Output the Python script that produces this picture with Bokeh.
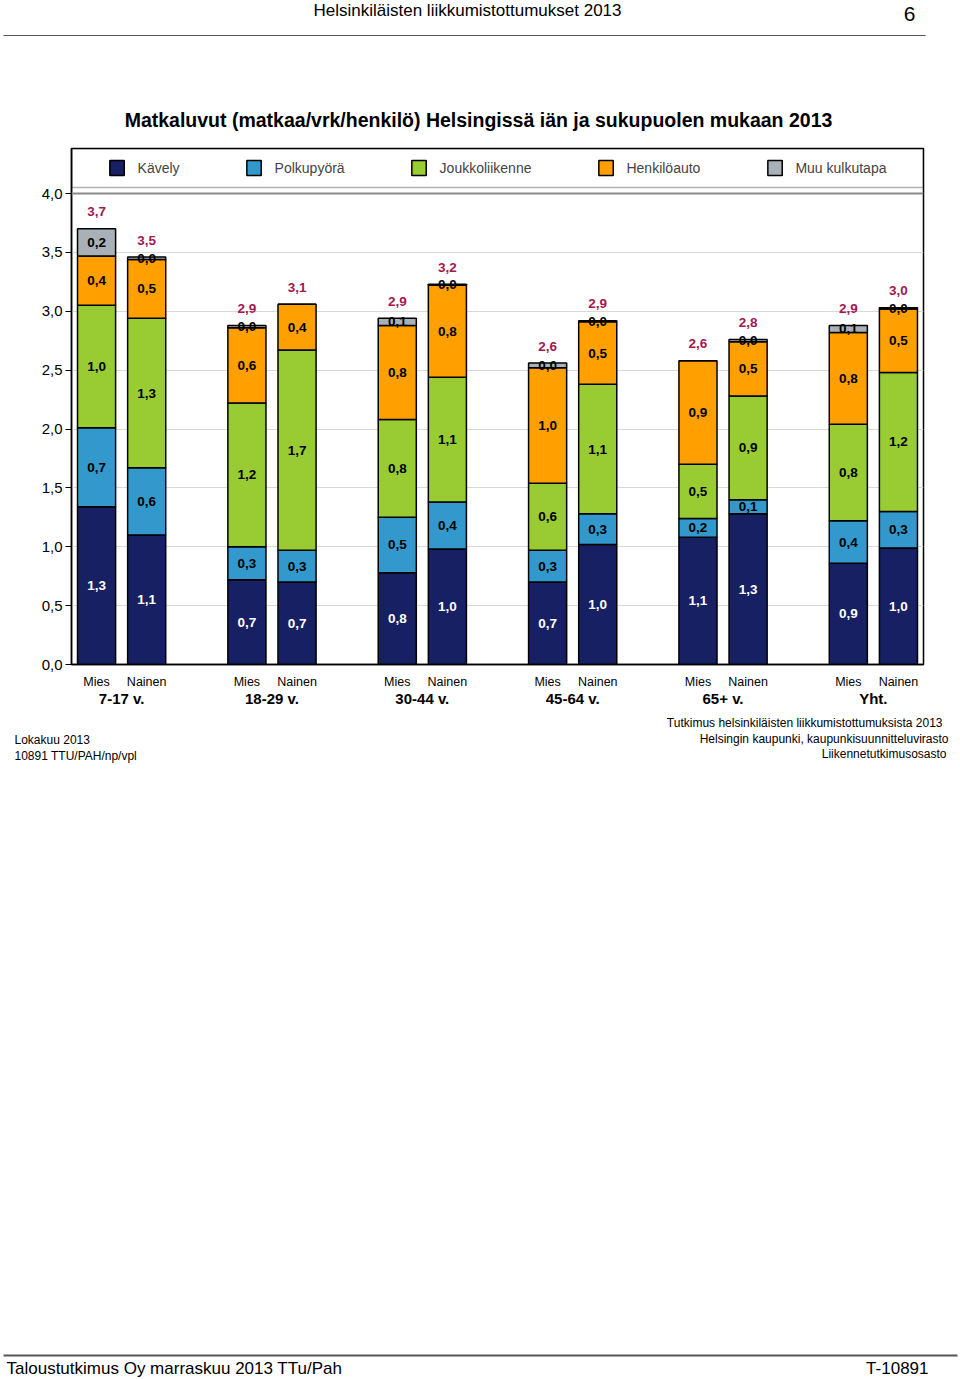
from bokeh.plotting import figure
from bokeh.models import (ColumnDataSource, Range1d, LabelSet, LinearAxis,
                          FixedTicker, CustomJSTickFormatter, Span, BoxAnnotation)
from bokeh.core.properties import value
from bokeh.embed import file_html
from bokeh.resources import INLINE

# ---------------- data ----------------
groups = ["7-17 v.", "18-29 v.", "30-44 v.", "45-64 v.", "65+ v.", "Yht."]
sexes = ["Mies", "Nainen"]
modes = ["Kävely", "Polkupyörä", "Joukkoliikenne", "Henkilöauto", "Muu kulkutapa"]
# order of bars: for each group Mies, Nainen
walk    = [1.34, 1.10, 0.72, 0.70, 0.78, 0.98, 0.70, 1.02, 1.08, 1.28, 0.86, 0.99]
bike    = [0.67, 0.57, 0.28, 0.27, 0.47, 0.40, 0.27, 0.26, 0.16, 0.12, 0.36, 0.31]
transit = [1.04, 1.27, 1.22, 1.70, 0.83, 1.06, 0.57, 1.10, 0.46, 0.88, 0.82, 1.18]
car     = [0.42, 0.50, 0.64, 0.39, 0.80, 0.78, 0.98, 0.53, 0.88, 0.46, 0.78, 0.54]
other   = [0.23, 0.02, 0.02, 0.00, 0.06, 0.01, 0.04, 0.01, 0.00, 0.02, 0.06, 0.01]
y_ticks = [0.0, 0.5, 1.0, 1.5, 2.0, 2.5, 3.0, 3.5, 4.0]

header_text = "Helsinkiläisten liikkumistottumukset 2013"
page_no = "6"
title_text = "Matkaluvut (matkaa/vrk/henkilö) Helsingissä iän ja sukupuolen mukaan 2013"
left_notes = ["Lokakuu 2013", "10891 TTU/PAH/np/vpl"]
right_notes = ["Tutkimus helsinkiläisten liikkumistottumuksista 2013",
               "Helsingin kaupunki, kaupunkisuunnitteluvirasto",
               "Liikennetutkimusosasto"]
footer_left = "Taloustutkimus Oy marraskuu 2013 TTu/Pah"
footer_right = "T-10891"

colors = ["#172062", "#3399cc", "#99cc33", "#ffa000", "#a8b0b8"]
label_colors = ["white", "black", "black", "black", "black"]
total_color = "#a0184f"
FONT = "Liberation Sans"
W = 960

series = [walk, bike, transit, car, other]
# bar positions: each group takes 2 slots plus 1 slot of gap
STEP = len(sexes) + 1
x = [STEP * gi + si + 0.5 for gi in range(len(groups)) for si in range(len(sexes))]
x_names = [s for g in groups for s in sexes]
g_centers = [STEP * gi + len(sexes) / 2 for gi in range(len(groups))]
x_end = STEP * len(groups) - 1


def fmt(v):
    return f"{v:.1f}".replace(".", ",")


data = {"x": x}
for m, vals in zip(modes, series):
    data[m] = vals
src = ColumnDataSource(data)

lx, ly, lt, lc = [], [], [], []
tx, ty, tt = [], [], []
for i, xi in enumerate(x):
    base = 0.0
    for k, vals in enumerate(series):
        v = vals[i]
        if v > 0:
            lx.append(xi); ly.append(base + v / 2); lt.append(fmt(v)); lc.append(label_colors[k])
        base += v
    tx.append(xi); ty.append(base); tt.append(fmt(base))
seg_src = ColumnDataSource(dict(x=lx, y=ly, t=lt, c=lc))
tot_src = ColumnDataSource(dict(x=tx, y=ty, t=tt))


# ---------------- decoration panels (page header / footer) ----------------
def blank(h, y0):
    f = figure(width=W, height=h, x_range=Range1d(0, W), y_range=Range1d(y0 + h, y0),
               min_border=0, x_axis_location=None, y_axis_location=None,
               toolbar_location=None, output_backend="svg", title=None)
    f.grid.visible = False
    f.outline_line_color = None
    f.border_fill_color = "white"
    return f


def txt(f, s, xx, yy, size, align="left", bold=False):
    f.text(x=[xx], y=[yy], text=[s], text_font=value(FONT), text_font_size=size,
           text_align=align, text_baseline="middle", text_color="black",
           text_font_style="bold" if bold else "normal")


head = blank(144, 0)
txt(head, header_text, 467, 10, "17px", "center")
txt(head, page_no, 909, 13, "21px", "center")
head.segment(x0=[3], y0=[35], x1=[925], y1=[35], line_color="#555555", line_width=1)
txt(head, title_text, 478, 119, "19.5px", "center", bold=True)

# ---------------- main chart ----------------
px_per_unit = (664 - 193) / 4.0
y_top = (664 - 148) / px_per_unit

p = figure(width=W, height=568, output_backend="svg", toolbar_location=None, title=None,
           x_range=Range1d(0, x_end), y_range=Range1d(0, y_top),
           min_border_left=71, min_border_right=W - 923,
           min_border_top=4, min_border_bottom=48)
p.background_fill_color = "white"
p.border_fill_color = "white"
p.outline_line_color = "black"
p.outline_line_width = 1.5

p.vbar_stack(modes, x="x", width=0.76, source=src, color=colors,
             line_color="black", line_width=1.5, legend_label=modes)

p.add_layout(LabelSet(x="x", y="y", text="t", source=seg_src, text_color="c",
                      text_align="center", text_baseline="middle",
                      text_font=value(FONT), text_font_size="13.5px", text_font_style="bold"))
p.add_layout(LabelSet(x="x", y="y", text="t", source=tot_src, text_color=total_color,
                      text_align="center", text_baseline="middle", y_offset=17,
                      text_font=value(FONT), text_font_size="13.5px", text_font_style="bold"))

p.xgrid.visible = False
p.ygrid.ticker = FixedTicker(ticks=y_ticks[1:-1])
p.ygrid.grid_line_color = "#d8d8d8"
p.ygrid.grid_line_width = 1

ya = p.yaxis[0]
ya.ticker = FixedTicker(ticks=y_ticks)
ya.formatter = CustomJSTickFormatter(code="return tick.toFixed(1).replace('.', ',');")
ya.major_tick_out = 6
ya.major_tick_in = 0
ya.minor_tick_line_color = None
ya.major_label_standoff = 3
ya.major_label_text_font = FONT
ya.major_label_text_font_size = "15px"
ya.major_label_text_color = "black"
ya.axis_line_color = "black"
ya.axis_line_width = 1.5

xa = p.xaxis[0]
xa.ticker = FixedTicker(ticks=x)
xa.major_label_overrides = {xi: nm for xi, nm in zip(x, x_names)}
xa.major_tick_line_color = None
xa.major_tick_out = 0
xa.major_tick_in = 0
xa.minor_tick_line_color = None
xa.minor_tick_out = 0
xa.major_label_standoff = 10
xa.major_label_text_font = FONT
xa.major_label_text_font_size = "12.5px"
xa.major_label_text_color = "black"
xa.axis_line_color = "black"
xa.axis_line_width = 1.5

ga = LinearAxis(ticker=FixedTicker(ticks=g_centers),
                major_label_overrides={gc: g for gc, g in zip(g_centers, groups)},
                axis_line_color=None, major_tick_line_color=None, minor_tick_line_color=None,
                major_tick_out=0, major_tick_in=0, minor_tick_out=0,
                major_label_standoff=-2, major_label_text_font=FONT,
                major_label_text_font_size="15px", major_label_text_font_style="bold",
                major_label_text_color="black")
p.add_layout(ga, "below")

# plot top border and legend box
p.add_layout(Span(location=4.0, dimension="width", line_color="#8a8a8a", line_width=2))
p.add_layout(BoxAnnotation(bottom=(664 - 187) / px_per_unit, fill_alpha=0,
                           line_color="black", line_width=1.5))

lg = p.legend[0]
lg.location = "top_center"
lg.orientation = "horizontal"
lg.margin = 0
lg.padding = 10
lg.spacing = 65
lg.glyph_width = 18
lg.glyph_height = 19
lg.label_height = 19
lg.label_standoff = 12
lg.label_text_font = FONT
lg.label_text_font_size = "14px"
lg.border_line_alpha = 0
lg.background_fill_alpha = 0

# ---------------- footer ----------------
foot = blank(1379 - 712, 712)
txt(foot, left_notes[0], 14, 739, "12px")
txt(foot, left_notes[1], 14, 755, "12px")
txt(foot, right_notes[0], 942, 722.5, "12px", "right")
txt(foot, right_notes[1], 948, 738, "12px", "right")
txt(foot, right_notes[2], 946, 753.5, "12px", "right")
foot.segment(x0=[3], y0=[1355], x1=[957], y1=[1355], line_color="#555555", line_width=2)
txt(foot, footer_left, 6, 1368, "17px")
txt(foot, footer_right, 928, 1368, "17px", "right")

open("out.html", "w").write(file_html([head, p, foot], INLINE))
